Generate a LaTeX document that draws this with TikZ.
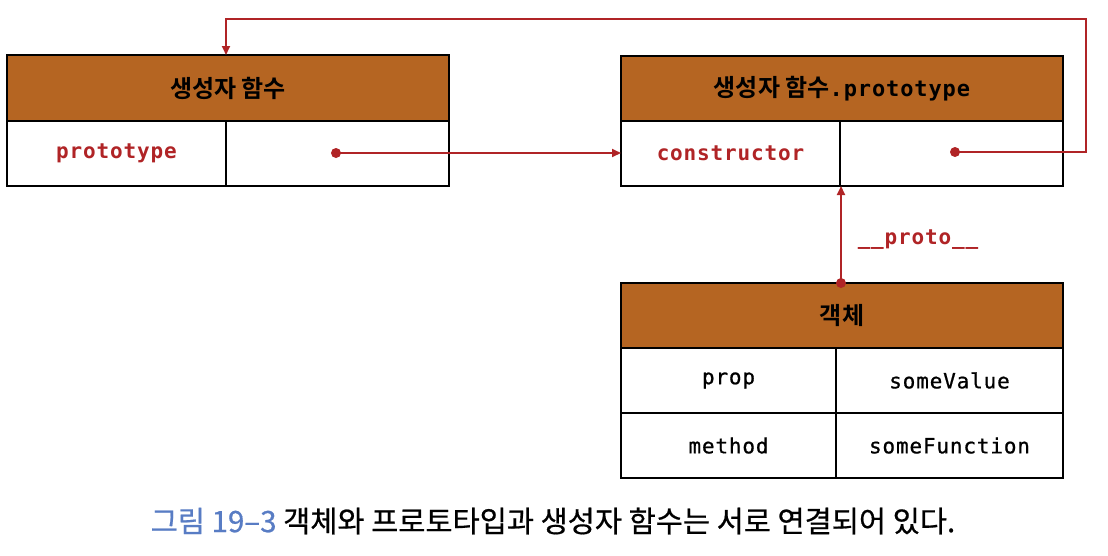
\documentclass[tikz,border=0pt]{standalone}
\usepackage{fontspec}
\usetikzlibrary{arrows.meta,calc}
\newfontfamily\krfont{Noto Sans CJK KR}[FakeBold=0.6]
\newfontfamily\krbold{Noto Sans CJK KR Bold}
\newfontfamily\monofont{DejaVu Sans Mono}[LetterSpace=4,FakeBold=0.8]
\newfontfamily\monobold{DejaVu Sans Mono Bold}[LetterSpace=4]
\definecolor{hdr}{RGB}{181,101,34}
\definecolor{lnred}{RGB}{176,36,38}
\definecolor{capblue}{RGB}{88,124,196}
\begin{document}
\begin{tikzpicture}[x=1pt,y=-1pt,
  box/.style={draw=black,line width=2pt,inner sep=0pt,outer sep=0pt,anchor=north west},
  header/.style={box,fill=hdr,font=\fontsize{24}{28}\selectfont},
  cell/.style={box,fill=white,font=\monofont\fontsize{21}{24}\selectfont},
  keycell/.style={box,fill=white,font=\monobold\fontsize{21}{24}\selectfont,text=lnred},
  dotn/.style={circle,fill=lnred,inner sep=0pt,minimum size=10pt},
  link/.style={draw=lnred,line width=2pt},
  tip/.style={-{Triangle[length=9pt,width=8pt]}}]
\useasboundingbox (0,0) rectangle (1108,555);
% box 1
\node[header,minimum width=442pt,minimum height=66pt] (h1) at (7,55) {\krbold 생성자 함수};
\node[keycell,minimum width=219pt,minimum height=65pt] (c1a) at (7,121) {prototype};
\node[cell,minimum width=223pt,minimum height=65pt] (c1b) at (226,121) {};
% box 2
\node[header,minimum width=442pt,minimum height=65pt] (h2) at (621,56) {{\krbold 생성자 함수}{\monobold\fontsize{22}{24}\selectfont .prototype}};
\node[keycell,minimum width=219pt,minimum height=65pt] (c2a) at (621,121) {constructor};
\node[cell,minimum width=223pt,minimum height=65pt] (c2b) at (840,121) {};
% box 3
\node[header,minimum width=442pt,minimum height=65pt] (h3) at (621,283) {\krbold 객체};
\node[cell,minimum width=215pt,minimum height=65pt] (r1a) at (621,348) {prop};
\node[cell,minimum width=227pt,minimum height=65pt] (r1b) at (836,348) {someValue};
\node[cell,minimum width=215pt,minimum height=65pt] (r2a) at (621,413) {method};
\node[cell,minimum width=227pt,minimum height=65pt] (r2b) at (836,413) {someFunction};
% dots
\node[dotn] (d1) at (336,153) {};
\node[dotn] (d2) at (955,152) {};
\node[dotn] (d3) at (841,283) {};
\coordinate (cr) at (1086,19);
% links
\draw[link,tip] (d1.center) -- (d1 -| c2a.west);
\draw[link,tip] (d2.center) -| (cr) -| (c1a.east |- h1.north);
\draw[link,tip] (d3.center) -- (d3 |- c2a.south);
\node[font=\monobold\fontsize{21}{24}\selectfont,text=lnred] (lbl) at (918,240) {\_\_proto\_\_};
% caption
\node[font=\krfont\fontsize{29.5}{32}\selectfont] (cap) at (553,521) {{\color{capblue}그림 19–3} 객체와 프로토타입과 생성자 함수는 서로 연결되어 있다.};
\end{tikzpicture}
\end{document}
